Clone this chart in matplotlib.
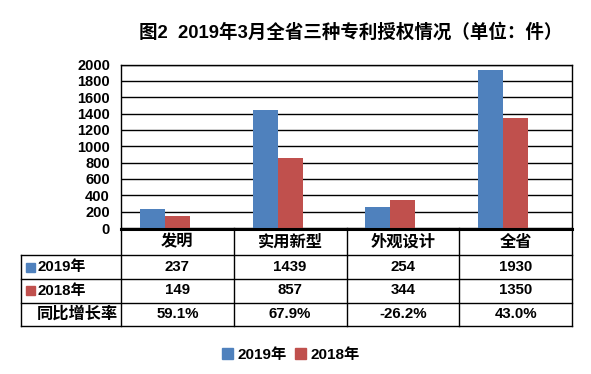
import matplotlib
matplotlib.use('Agg')
import matplotlib.pyplot as plt
from matplotlib.transforms import blended_transform_factory
from matplotlib.lines import Line2D
from matplotlib.patches import Rectangle, Patch

# ---------------- data ----------------
categories = ['发明', '实用新型', '外观设计', '全省']
v2019 = [237, 1439, 254, 1930]
v2018 = [149, 857, 344, 1350]
growth = ['59.1%', '67.9%', '-26.2%', '43.0%']
series_names = ['2019年', '2018年', '同比增长率']
yticks = list(range(0, 2001, 200))
title = '图2  2019年3月全省三种专利授权情况（单位：件）'

# ---------------- style ----------------
FAM = ['Liberation Sans', 'Noto Sans CJK SC', 'DejaVu Sans']
plt.rcParams['font.family'] = FAM
plt.rcParams['font.weight'] = 'bold'
C2019 = '#4F81BD'
C2018 = '#C0504D'

W, H = 591, 374
fig = plt.figure(figsize=(W / 100, H / 100), dpi=100)


def fx(px):
    return px / W


def fy(py):
    return 1 - py / H


left_px, right_px, top_px, bot_px = 121, 572, 64.5, 228
ax = fig.add_axes([fx(left_px), fy(bot_px), fx(right_px) - fx(left_px), fy(top_px) - fy(bot_px)])

x = list(range(len(categories)))
bw = 0.2212
ax.bar([i - bw for i in x], v2019, width=bw, color=C2019, zorder=3)
ax.bar(x, v2018, width=bw, color=C2018, zorder=3)

ax.set_xlim(-0.5, len(categories) - 0.5)
ax.set_ylim(0, 2000)
ax.set_yticks(yticks)
ax.set_yticklabels([str(t) for t in yticks], fontsize=10.5, fontweight='bold')
ax.tick_params(axis='y', length=0, pad=8)
ax.set_xticks([])
ax.yaxis.grid(True, color='black', lw=1.0, zorder=0)
ax.set_axisbelow(True)
for s in ['left', 'right', 'top']:
    ax.spines[s].set_color('black')
    ax.spines[s].set_linewidth(1.0)
ax.spines['bottom'].set_visible(False)

# ---------------- title ----------------
fig.text(fx(351), fy(32), title, ha='center', va='center', fontsize=13.3, fontweight='bold')

# ---------------- data table ----------------
bt = blended_transform_factory(ax.transData, fig.transFigure)
row_lines = [255, 278.5, 302.5, 326]
tbl_left = 21
tbl_bottom = 326

fig.add_artist(Line2D([fx(left_px), fx(right_px)], [fy(228.5), fy(228.5)], color='black', lw=2.2))
for ry in row_lines:
    fig.add_artist(Line2D([fx(tbl_left), fx(right_px)], [fy(ry), fy(ry)], color='black', lw=1.0))
fig.add_artist(Line2D([fx(tbl_left), fx(tbl_left)], [fy(255), fy(tbl_bottom)], color='black', lw=1.0))
for i in range(len(categories) + 1):
    xb = i - 0.5
    fig.add_artist(Line2D([xb, xb], [fy(228), fy(tbl_bottom)], color='black', lw=1.0, transform=bt))

for i, c in enumerate(categories):
    fig.text(i, fy(242), c, transform=bt, ha='center', va='center', fontsize=11.7, fontweight='bold')

row_y = [267, 290.5, 314]
row_vals = [[str(v) for v in v2019], [str(v) for v in v2018], growth]
for r, (ry, vals) in enumerate(zip(row_y, row_vals)):
    for i, v in enumerate(vals):
        fig.text(i, fy(ry), v, transform=bt, ha='center', va='center', fontsize=10.8, fontweight='bold')
    fig.text(fx(37), fy(ry), series_names[r], ha='left', va='center',
             fontsize=(11.7 if r == 2 else 10.8), fontweight='bold')

for ry, col in zip(row_y[:2], [C2019, C2018]):
    fig.add_artist(Rectangle((fx(26), fy(ry + 4.5)), fx(9), 9 / H, color=col, transform=fig.transFigure))

# ---------------- legend ----------------
handles = [Patch(color=C2019, label=series_names[0]), Patch(color=C2018, label=series_names[1])]
fig.legend(handles=handles, loc='center', bbox_to_anchor=(fx(291), fy(355)), ncol=2, frameon=False,
           handlelength=0.7, handleheight=0.7, handletextpad=0.35, columnspacing=0.5,
           prop={'size': 11, 'weight': 'bold'})

fig.savefig('out.png', dpi=100)
